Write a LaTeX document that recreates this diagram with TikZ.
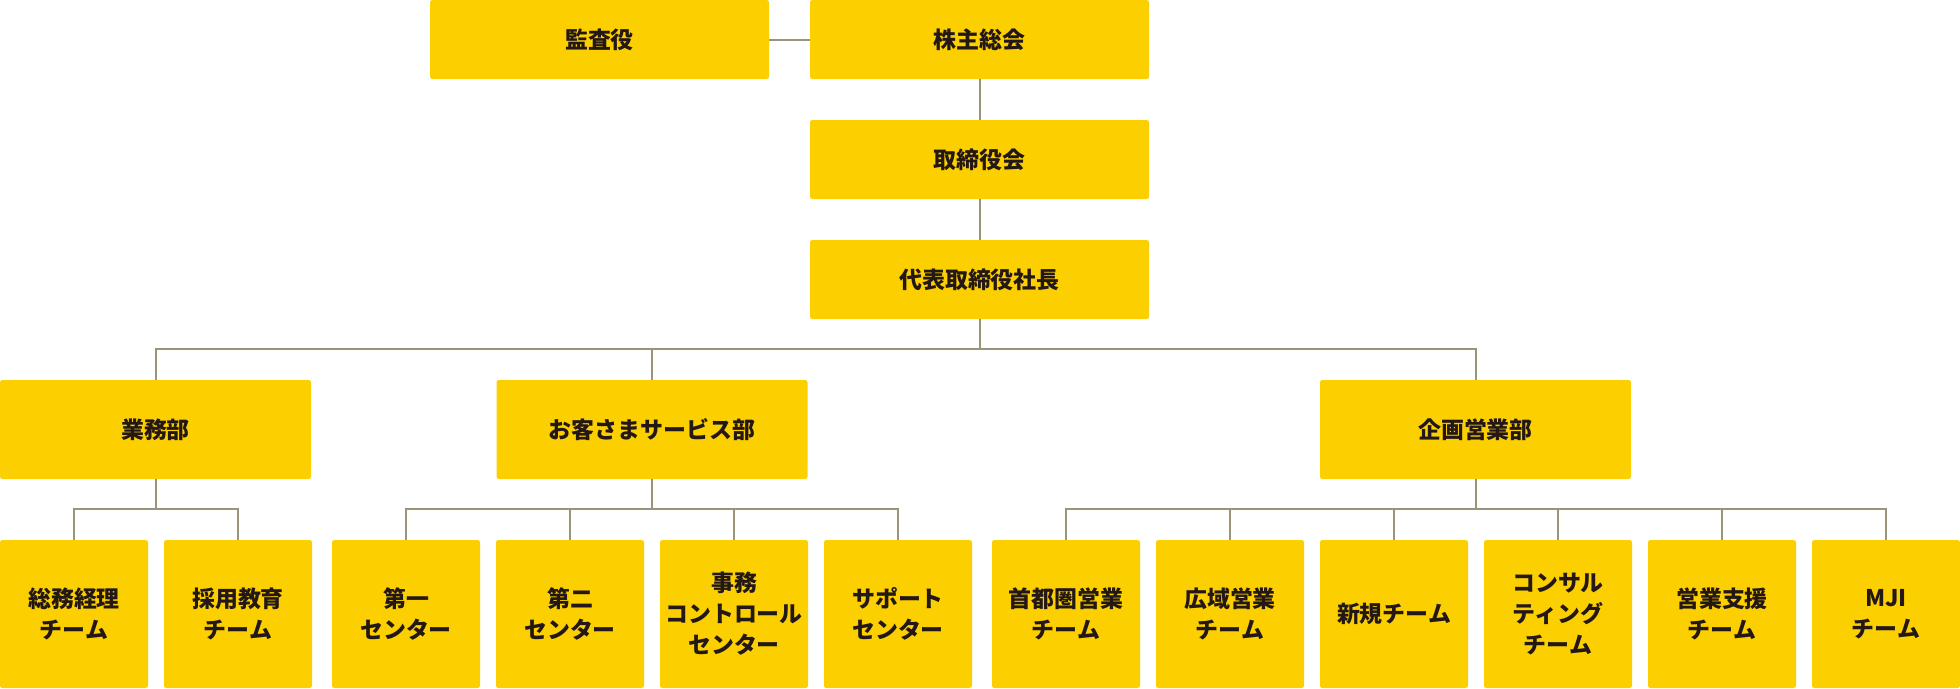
\documentclass[tikz,border=0pt]{standalone}
\usepackage{fontspec}
\setmainfont{Noto Sans CJK JP}
\usepackage{xcolor}
\usetikzlibrary{positioning,calc}
\definecolor{orgfill}{RGB}{251,207,0}
\definecolor{orgline}{RGB}{154,149,120}
\definecolor{orgtext}{RGB}{35,24,21}

\begin{document}
\begin{tikzpicture}[x=0.25mm,y=-0.25mm,
    box/.style={rounded corners=0.6mm,fill=orgfill,draw=none,inner sep=0pt,
                text=orgtext,align=center,
                font=\fontsize{16.3pt}{22pt}\selectfont\bfseries},
    topbox/.style={box,minimum width=84.75mm,minimum height=19.75mm},
    deptbox/.style={box,minimum width=77.75mm,minimum height=24.75mm},
    teambox/.style={box,minimum width=37mm,minimum height=37mm},
    conn/.style={draw=orgline,line width=0.5mm}]
    \useasboundingbox (0,0) rectangle (1960,688);
    % top of the chart
    \node[topbox] (kansa) at (599.5,39.5) {監査役};
    \node[topbox] (kabunushi) at (979.5,39.5) {株主総会};
    \node[topbox] (torishimari) at (979.5,159.5) {取締役会};
    \node[topbox] (shacho) at (979.5,279.5) {代表取締役社長};
    \draw[conn] (kansa)--(kabunushi);
    \draw[conn] (kabunushi)--(torishimari);
    \draw[conn] (torishimari)--(shacho);
    % departments
    \node[deptbox] (gyomu) at (155.5,429.5) {業務部};
    \node[deptbox] (okyaku) at (652,429.5) {お客さまサービス部};
    \node[deptbox] (kikaku) at (1475.5,429.5) {企画営業部};
    \coordinate (bus1) at (979.5,349);
    \draw[conn] (shacho.south)--(bus1);
    \draw[conn] (gyomu.north) |- (bus1) -| (kikaku.north);
    \draw[conn] (okyaku.north)--(okyaku.north |- bus1);
    % teams
    \node[teambox] (t1) at (74,614) {総務経理\\チーム};
    \node[teambox] (t2) at (238,614) {採用教育\\チーム};
    \node[teambox] (t3) at (406,614) {第一\\センター};
    \node[teambox] (t4) at (570,614) {第二\\センター};
    \node[teambox] (t5) at (734,614) {事務\\コントロール\\センター};
    \node[teambox] (t6) at (898,614) {サポート\\センター};
    \node[teambox] (t7) at (1066,614) {首都圏営業\\チーム};
    \node[teambox] (t8) at (1230,614) {広域営業\\チーム};
    \node[teambox] (t9) at (1394,614) {新規チーム};
    \node[teambox] (t10) at (1558,614) {コンサル\\ティング\\チーム};
    \node[teambox] (t11) at (1722,614) {営業支援\\チーム};
    \node[teambox] (t12) at (1886,614) {MJI\\チーム};
    \coordinate (bus2a) at (155.5,509);
    \coordinate (bus2b) at (652,509);
    \coordinate (bus2c) at (1475.5,509);
    \draw[conn] (gyomu.south)--(bus2a);
    \draw[conn] (t1.north) |- (bus2a) -| (t2.north);
    \draw[conn] (okyaku.south)--(bus2b);
    \draw[conn] (t3.north) |- (bus2b) -| (t6.north);
    \draw[conn] (t4.north)--(t4.north |- bus2b);
    \draw[conn] (t5.north)--(t5.north |- bus2b);
    \draw[conn] (kikaku.south)--(bus2c);
    \draw[conn] (t7.north) |- (bus2c) -| (t12.north);
    \draw[conn] (t8.north)--(t8.north |- bus2c);
    \draw[conn] (t9.north)--(t9.north |- bus2c);
    \draw[conn] (t10.north)--(t10.north |- bus2c);
    \draw[conn] (t11.north)--(t11.north |- bus2c);
  \end{tikzpicture}
\end{document}
